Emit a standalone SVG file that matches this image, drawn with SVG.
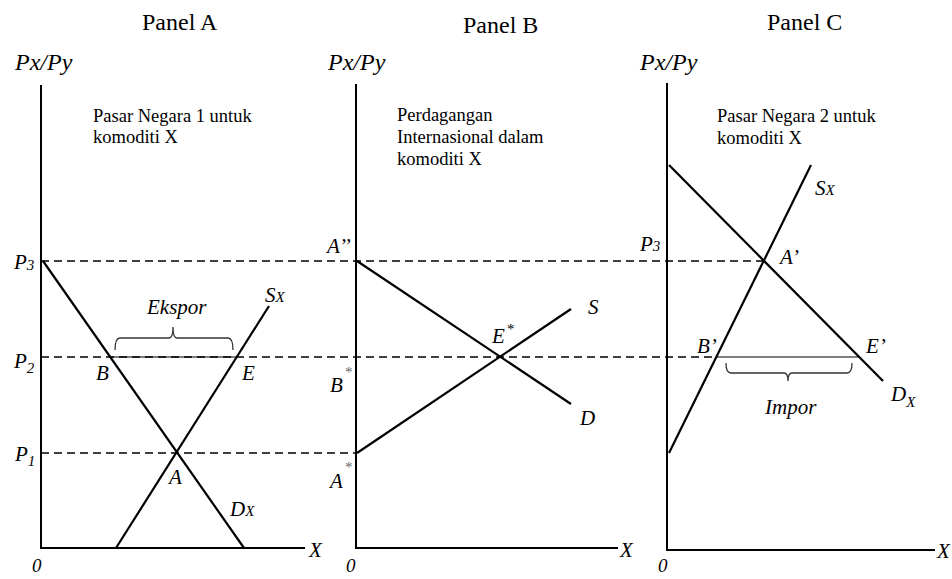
<svg xmlns="http://www.w3.org/2000/svg" width="952" height="579" viewBox="0 0 952 579">
<style>
text{font-family:"Liberation Serif","Times New Roman",serif;fill:#000}
.title{font-size:24px}
.ax{font-size:24px;font-style:italic}
.desc{font-size:18.5px}
.lbl{font-size:21px;font-style:italic}
.zero{font-size:19px;font-style:italic}
.sub{font-size:15px;font-style:italic}
.axis{stroke:#000;stroke-width:2;fill:none}
.curve{stroke:#000;stroke-width:2.2;fill:none;stroke-linecap:butt}
.dash{stroke:#000;stroke-width:1.5;stroke-dasharray:8,5;fill:none}
.thin{stroke:#000;stroke-width:1.2;fill:none}
.brace{stroke:#333;stroke-width:1.3;fill:none}
</style>
<rect width="952" height="579" fill="#fff"/>
<g id="connectors">
<line class="dash" x1="41" y1="261" x2="764" y2="261"/>
<line class="dash" x1="41" y1="357" x2="717" y2="357"/>
<line class="dash" x1="41" y1="453" x2="356" y2="453"/>
<line class="thin" x1="110" y1="357" x2="237" y2="357"/>
<line class="thin" x1="717" y1="357" x2="859" y2="357"/>
</g>
<g id="panelA">
<text class="title" x="142" y="30">Panel A</text>
<text class="ax" x="15" y="70">Px/Py</text>
<text class="desc" x="93" y="122">Pasar Negara 1 untuk</text>
<text class="desc" x="93" y="143">komoditi X</text>
<polyline class="axis" points="41,85 41,548 305,548"/>
<text class="lbl" x="309" y="557">X</text>
<text class="zero" x="32" y="572">0</text>
<line class="curve" x1="43" y1="261" x2="244" y2="548"/>
<line class="curve" x1="116" y1="548" x2="269" y2="306"/>
<text class="lbl" x="14" y="269">P<tspan class="sub" dy="1">3</tspan></text>
<text class="lbl" x="14" y="368">P<tspan class="sub" dy="5">2</tspan></text>
<text class="lbl" x="15" y="461">P<tspan class="sub" dy="5">1</tspan></text>
<text class="lbl" x="96" y="380">B</text>
<text class="lbl" x="242" y="380">E</text>
<text class="lbl" x="265" y="302">S<tspan class="sub">X</tspan></text>
<text class="lbl" x="147" y="314">Ekspor</text>
<path class="brace" d="M115,350 Q115,338 120,338 L169,338 Q173,338 173,327 Q173,338 177,338 L228,338 Q233,338 233,350"/>
<text class="lbl" x="169" y="484">A</text>
<text class="lbl" x="230" y="516">D<tspan class="sub">X</tspan></text>
</g>
<g id="panelB">
<text class="title" x="463" y="33">Panel B</text>
<text class="ax" x="328" y="70">Px/Py</text>
<text class="desc" x="397" y="121">Perdagangan</text>
<text class="desc" x="397" y="143">Internasional dalam</text>
<text class="desc" x="397" y="165">komoditi X</text>
<polyline class="axis" points="356,84 356,548 618,548"/>
<text class="lbl" x="620" y="557">X</text>
<text class="zero" x="346" y="572">0</text>
<line class="curve" x1="357" y1="261" x2="571" y2="404"/>
<line class="curve" x1="357" y1="453" x2="571" y2="309"/>
<text class="lbl" x="327" y="253">A’’</text>
<text class="lbl" x="330" y="392">B</text>
<text class="sub" x="345" y="377" style="font-style:normal;fill:#666">*</text>
<text class="lbl" x="330" y="488">A</text>
<text class="sub" x="345" y="472" style="font-style:normal;fill:#666">*</text>
<text class="lbl" x="492" y="343">E</text>
<text class="sub" x="507" y="334" style="font-style:normal">*</text>
<text class="lbl" x="588" y="314">S</text>
<text class="lbl" x="580" y="425">D</text>
</g>
<g id="panelC">
<text class="title" x="767" y="30">Panel C</text>
<text class="ax" x="640" y="70">Px/Py</text>
<text class="desc" x="717" y="122">Pasar Negara 2 untuk</text>
<text class="desc" x="717" y="144">komoditi X</text>
<polyline class="axis" points="667,83 667,550 935,550"/>
<text class="lbl" x="937" y="558">X</text>
<text class="zero" x="658" y="572">0</text>
<line class="curve" x1="669" y1="165" x2="883" y2="381"/>
<line class="curve" x1="669" y1="453" x2="811" y2="165"/>
<text class="lbl" x="815" y="195">S<tspan class="sub">X</tspan></text>
<text class="lbl" x="640" y="251">P<tspan class="sub">3</tspan></text>
<text class="lbl" x="780" y="264">A’</text>
<text class="lbl" x="697" y="353">B’</text>
<text class="lbl" x="866" y="353">E’</text>
<text class="lbl" x="891" y="401">D<tspan class="sub" dy="6">X</tspan></text>
<path class="brace" d="M726,363 Q726,373 731,373 L784,373 Q788,373 788,381 Q788,373 792,373 L847,373 Q852,373 852,363"/>
<text class="lbl" x="765" y="414">Impor</text>
</g>
</svg>
